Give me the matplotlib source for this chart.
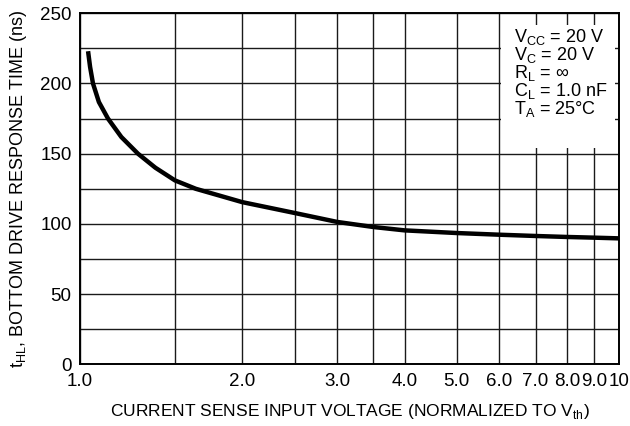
import matplotlib
matplotlib.use('Agg')
import matplotlib.pyplot as plt
from matplotlib.patches import Rectangle
from matplotlib.ticker import FixedLocator, NullFormatter

# Curve
voltage = [1.035, 1.044, 1.057, 1.084, 1.127, 1.193, 1.281, 1.38, 1.5, 1.64, 2.0, 2.5,
           3.0, 3.5, 4.0, 5.0, 6.0, 7.0, 8.0, 9.0, 10.0]
resp_time = [223, 211.8, 200, 186.8, 175, 161.9, 150, 140, 131, 125, 115.5, 107.8,
             101.4, 97.8, 95.4, 93.5, 92.3, 91.4, 90.7, 90.2, 89.7]

x_ticks = [1, 2, 3, 4, 5, 6, 7, 8, 9, 10]
x_labels = ['1.0', '2.0', '3.0', '4.0', '5.0', '6.0', '7.0', '8.0', '9.0', '10']
x_minor = [1.5, 2.5, 3.5]
y_ticks = [0, 50, 100, 150, 200, 250]

conditions = [r'V$_\mathregular{CC}$ = 20 V',
              r'V$_\mathregular{C}$ = 20 V',
              r'R$_\mathregular{L}$ = ∞',
              r'C$_\mathregular{L}$ = 1.0 nF',
              r'T$_\mathregular{A}$ = 25°C']

plt.rcParams['font.family'] = ['Liberation Sans', 'DejaVu Sans']
plt.rcParams['mathtext.fontset'] = 'custom'
plt.rcParams['mathtext.rm'] = 'Liberation Sans'

fig = plt.figure(figsize=(6.3, 4.26), dpi=100)
ax = fig.add_axes([0.127, 0.1448, 0.8556, 0.824])

ax.plot(voltage, resp_time, color='black', linewidth=3.2, solid_capstyle='butt',
        solid_joinstyle='round', zorder=4)

ax.set_xscale('log')
ax.set_xlim(1, 10)
ax.set_ylim(0, 250)
ax.xaxis.set_major_locator(FixedLocator(x_ticks))
ax.set_xticklabels(x_labels)
ax.xaxis.set_minor_locator(FixedLocator(x_minor))
ax.xaxis.set_minor_formatter(NullFormatter())
ax.yaxis.set_major_locator(FixedLocator(y_ticks))
ax.yaxis.set_minor_locator(FixedLocator(range(25, 250, 50)))

ax.grid(True, which='both', color='#1a1a1a', linewidth=1.0)
ax.tick_params(which='both', length=0, labelsize=13.5)
ax.tick_params(axis='x', pad=6)
ax.tick_params(axis='y', pad=6)
for s in ax.spines.values():
    s.set_linewidth(1.4)

# white box hiding the grid behind the test conditions
ax.add_patch(Rectangle((0.781, 0.616), 0.2116, 0.351, transform=ax.transAxes,
                       facecolor='white', edgecolor='none', zorder=3))
for i, txt in enumerate(conditions):
    ax.text(0.806, 0.919 - i * 0.0516, txt, transform=ax.transAxes, fontsize=13,
            va='baseline', ha='left', zorder=5)

ax.set_xlabel(r'CURRENT SENSE INPUT VOLTAGE (NORMALIZED TO V$_\mathregular{th}$)',
              fontsize=12.5, labelpad=9)
ax.set_ylabel(r't$_\mathregular{HL}$, BOTTOM DRIVE RESPONSE TIME (ns)',
              fontsize=13, labelpad=8)

fig.savefig('out.png', dpi=100)
